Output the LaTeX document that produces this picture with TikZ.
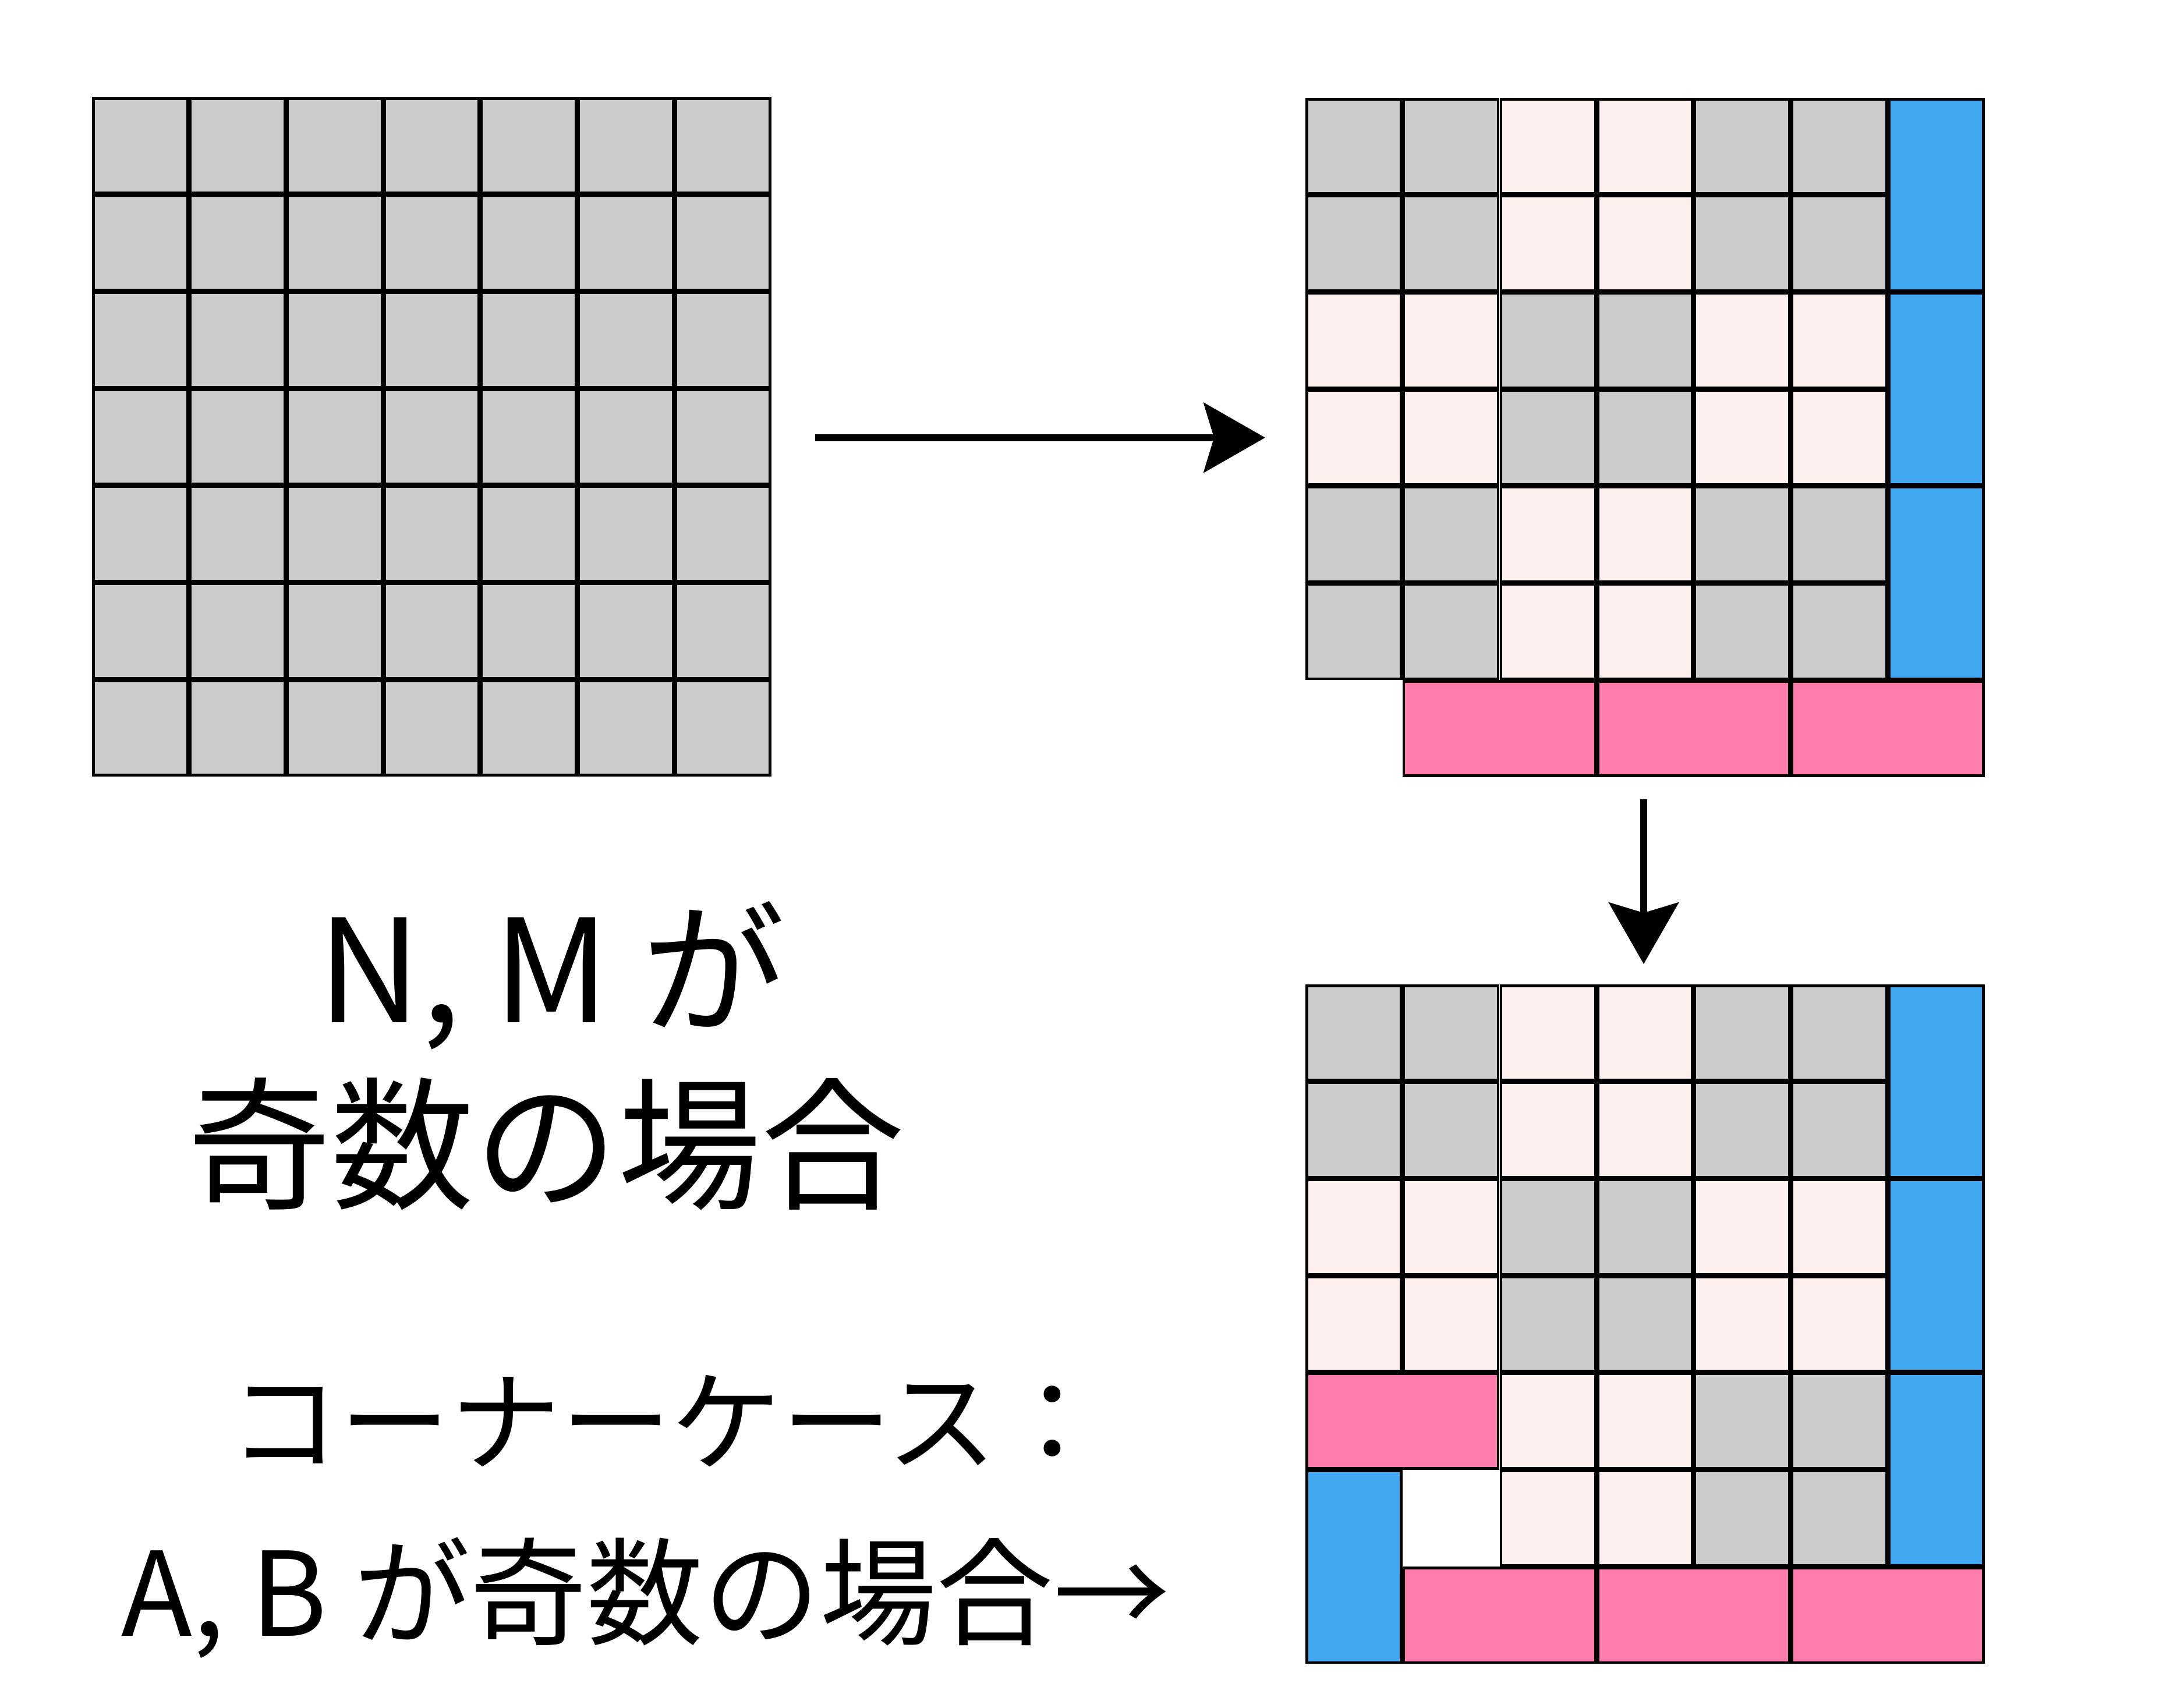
\documentclass[tikz,border=0pt]{standalone}
\usepackage{fontspec}
\setmainfont{Noto Sans CJK JP}
\usetikzlibrary{arrows.meta}
\definecolor{cellgray}{HTML}{CCCCCC}
\definecolor{celllight}{HTML}{FDF0EF}
\definecolor{barpink}{HTML}{FF7BAC}
\definecolor{barblue}{HTML}{42A8F4}

\begin{document}
\begin{tikzpicture}[x=1.667cm,y=-1.667cm,
  cell/.style={draw=black,line width=1.28pt,inner sep=0pt,minimum size=1.622cm},
  hbar/.style={cell,fill=barpink,minimum width=3.289cm},
  vbar/.style={cell,fill=barblue,minimum height=3.289cm},
  nextarrow/.style={line width=3.4pt,-{Stealth[length=30pt,width=34pt,inset=5pt]}},
  txtlabel/.style={anchor=base,inner sep=0pt}]
   \useasboundingbox (0,0) rectangle (22.502,17.451);
   % left grid
   \foreach \r in {0,...,6}
     \foreach \c in {0,...,6}
       \node[cell,fill=cellgray] (a\r\c) at (0.948+\c+0.5,1.002+\r+0.5) {};
   % upper right grid
   \foreach \r in {0,...,5}
     \foreach \c in {0,...,5} {
       \pgfmathtruncatemacro\k{mod(floor(\c/2)+floor(\r/2),2)}
       \ifnum\k=0 \def\col{cellgray}\else\def\col{celllight}\fi
       \node[cell,fill=\col] (b\r\c) at (13.45+\c+0.5,1.008+\r+0.5) {};
     }
   \foreach \r in {0,2,4}
     \node[vbar] (bv\r) at (13.45+6.5,1.008+\r+1) {};
   \foreach \c in {1,3,5}
     \node[hbar] (bh\c) at (13.45+\c+1,1.008+6.5) {};
   % lower right grid
   \foreach \r in {0,...,5}
     \foreach \c in {0,...,5} {
       \pgfmathtruncatemacro\k{mod(floor(\c/2)+floor(\r/2),2)}
       \pgfmathtruncatemacro\s{and(\r>3,\c<2)}
       \ifnum\k=0 \def\col{cellgray}\else\def\col{celllight}\fi
       \ifnum\s=0 \node[cell,fill=\col] (c\r\c) at (13.45+\c+0.5,10.145+\r+0.5) {};\fi
     }
   \foreach \r in {0,2,4}
     \node[vbar] (cv\r) at (13.45+6.5,10.145+\r+1) {};
   \foreach \c in {1,3,5}
     \node[hbar] (ch\c) at (13.45+\c+1,10.145+6.5) {};
   \node[hbar] (chx) at (13.45+1,10.145+4.5) {};
   \node[vbar] (cvx) at (13.45+0.5,10.145+6) {};
   % arrows
   \coordinate (h1) at (8.40,4.51);
   \coordinate (h2) at (13.035,4.51);
   \draw[nextarrow] (h1) -- (h2);
   \coordinate (v1) at (16.935,8.236);
   \coordinate (v2) at (16.935,9.934);
   \draw[nextarrow] (v1) -- (v2);
   % texts
   \node[txtlabel,font=\fontsize{70}{84}\selectfont] (t1) at (5.681,10.534) {N, M が};
   \node[txtlabel,font=\fontsize{70}{84}\selectfont] (t2) at (5.627,12.346) {奇数の場合};
   \node[txtlabel,font=\fontsize{54}{64}\selectfont] (t3) at (6.887,15.069) {コーナーケース：};
   \node[txtlabel,font=\fontsize{57}{68}\selectfont] (t4) at (6.653,16.857) {A, B が奇数の場合→};
  \end{tikzpicture}
\end{document}
